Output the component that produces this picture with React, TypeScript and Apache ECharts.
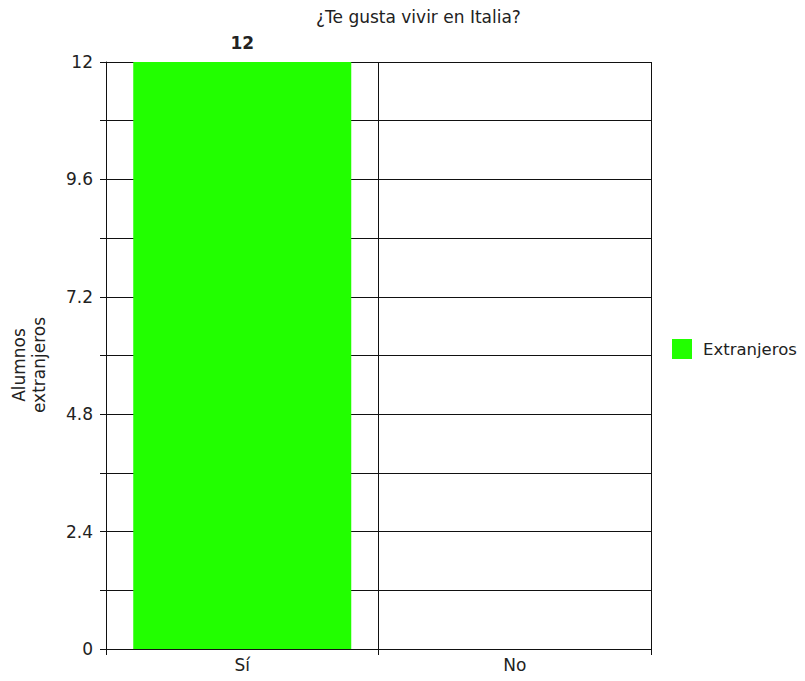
import React, { useEffect, useRef } from "react";
import * as echarts from "echarts";

// Respuestas a la encuesta
const categories = ["Sí", "No"];
const extranjeros = [12, 0];
const seriesName = "Extranjeros";
const chartTitle = "¿Te gusta vivir en Italia?";
const yAxisName = "Alumnos\nextranjeros";

const FONT = "DejaVu Sans";
const TEXT = "#222";
const LINE = "#111";
const FS = 17;

export default function App() {
  const ref = useRef<HTMLDivElement>(null);

  useEffect(() => {
    if (!ref.current) return;
    const chart = echarts.init(ref.current, null, { renderer: "svg" });
    chart.setOption({
      animation: false,
      backgroundColor: "#fff",
      textStyle: { fontFamily: FONT, color: TEXT },
      title: {
        text: chartTitle,
        left: 316,
        top: 8,
        padding: 0,
        textStyle: { fontFamily: FONT, fontSize: FS, fontWeight: "normal", color: TEXT },
      },
      legend: {
        orient: "vertical",
        left: 672,
        top: 339,
        padding: 0,
        itemWidth: 20,
        itemHeight: 20,
        itemGap: 0,
        icon: "rect",
        data: [seriesName],
        textStyle: {
          fontFamily: FONT,
          fontSize: 16.5,
          color: TEXT,
          padding: [0, 0, 0, 6],
          overflow: "none",
        },
      },
      // rotated y-axis title, placed to the left of the tick labels
      graphic: [
        {
          type: "text",
          x: 29,
          y: 365,
          rotation: Math.PI / 2,
          style: {
            text: yAxisName,
            font: `${FS}px ${FONT}`,
            fill: TEXT,
            align: "center",
            verticalAlign: "middle",
            lineHeight: 20,
          },
        },
      ],
      grid: { left: 106, right: 154, top: 62, bottom: 32, containLabel: false },
      xAxis: {
        type: "category",
        data: categories,
        boundaryGap: true,
        axisLine: { show: true, lineStyle: { color: LINE, width: 1 } },
        axisTick: { show: true, length: 6, lineStyle: { color: LINE } },
        splitLine: { show: true, lineStyle: { color: LINE, width: 1 } },
        axisLabel: { fontFamily: FONT, fontSize: FS, color: TEXT, margin: 7 },
      },
      yAxis: {
        type: "value",
        min: 0,
        max: 12,
        interval: 1.2,
        axisLine: { show: true, lineStyle: { color: LINE, width: 1 } },
        axisTick: { show: true, length: 6, lineStyle: { color: LINE } },
        splitLine: { show: true, lineStyle: { color: LINE, width: 1 } },
        axisLabel: {
          fontFamily: FONT,
          fontSize: FS,
          color: TEXT,
          margin: 13,
          formatter: (v: number, i: number) =>
            i % 2 === 0 ? String(Math.round(v * 10) / 10) : "",
        },
      },
      series: [
        {
          name: seriesName,
          type: "bar",
          data: extranjeros,
          barCategoryGap: "20%",
          itemStyle: { color: "#22ff00" },
          label: {
            show: true,
            position: "top",
            distance: 11,
            fontFamily: FONT,
            fontSize: FS,
            fontWeight: "bold",
            color: TEXT,
            formatter: (p: any) => (p.value ? String(p.value) : ""),
          },
        },
      ],
    });
    return () => chart.dispose();
  }, []);

  return <div ref={ref} style={{ width: 805, height: 681, margin: -8 }} />;
}
